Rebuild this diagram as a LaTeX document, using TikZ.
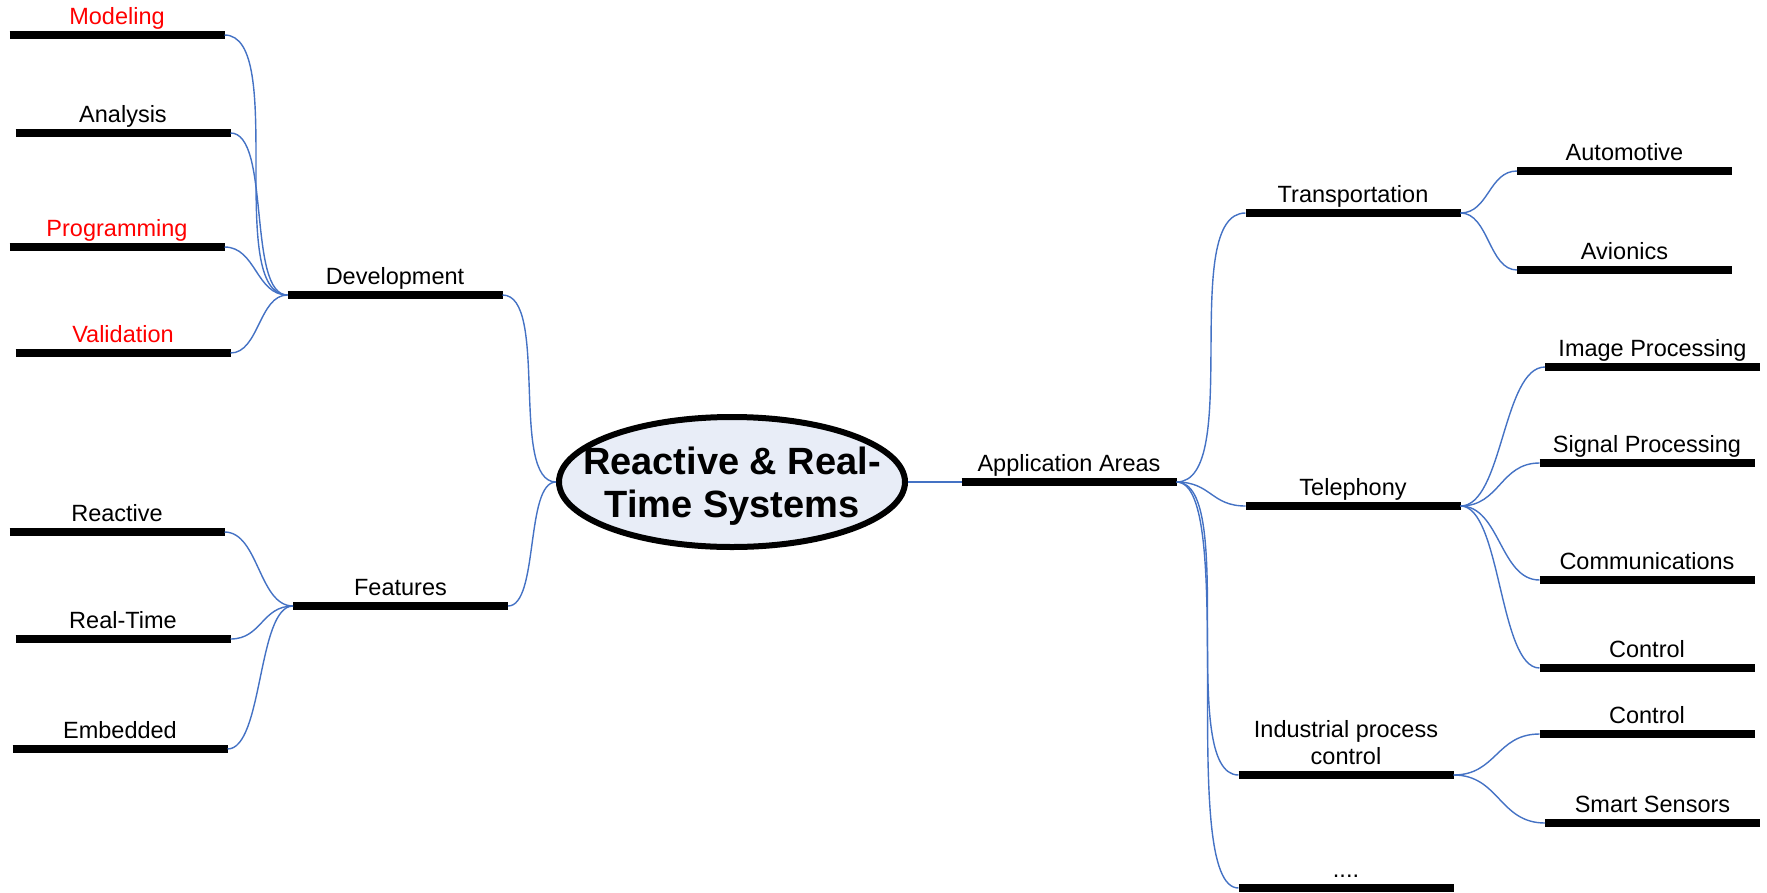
\documentclass[tikz,border=0pt]{standalone}
\usepackage{fontspec}
\setmainfont{Liberation Sans}
\usetikzlibrary{shapes.geometric,calc}

\definecolor{linkblue}{RGB}{68,114,196}
\definecolor{corefill}{RGB}{232,237,247}
\definecolor{hotred}{RGB}{255,0,0}

\tikzset{every picture/.style={line width=0.75pt}}
\tikzset{
	bar/.style={draw=black, line width=8pt},
	topic/.style={font=\fontsize{23.5}{27}\selectfont, align=center, minimum width=215pt,
		inner xsep=0pt, inner ysep=11pt, text depth=0pt, outer sep=0pt, anchor=south,
		append after command={(\tikzlastnode.south west) edge[bar] (\tikzlastnode.south east)}},
	hot/.style={text=hotred},
	core/.style={ellipse, draw=black, line width=6pt, fill=corefill, minimum width=346pt,
		minimum height=130pt, inner sep=0pt},
	title/.style={align=center, inner sep=0pt, font=\fontsize{38}{43}\selectfont\bfseries},
	link/.style={draw=linkblue, line width=1.4pt,
		to path={let \p1=(\tikztostart), \p2=(\tikztotarget),
			\n1={max(0.5*(\x2-\x1), min(\x2-\x1, 0.25*abs(\y2-\y1)))} in
			.. controls ({\x1+\n1*1pt},\y1) and ({\x2-\n1*1pt},\y2) .. (\tikztotarget)}},
}

\begin{document}
\begin{tikzpicture}[x=1pt,y=1pt,yscale=-1,xscale=1]
	\useasboundingbox (0,0) rectangle (1767,892);

	%Shape: Ellipse [core]
	\node[core] (core) at (732,482) {};
	% Text Node
	\node[title] (ttl) at (732,486) {Reactive \& Real-\\Time Systems};

	%Branch: left side
	\node[topic] (dev) at (395,295) {Development};
	\node[topic] (feat) at (400.5,606) {Features};
	\node[topic,hot] (mod) at (117,35) {Modeling};
	\node[topic] (ana) at (123,133) {Analysis};
	\node[topic,hot] (prog) at (117,247) {Programming};
	\node[topic,hot] (vali) at (123,353) {Validation};
	\node[topic] (reac) at (117,532) {Reactive};
	\node[topic] (rt) at (123,639) {Real-Time};
	\node[topic] (emb) at (120,749) {Embedded};

	%Branch: right side
	\node[topic] (app) at (1069,482) {Application Areas};
	\node[topic] (trans) at (1353,213) {Transportation};
	\node[topic] (tel) at (1353,506) {Telephony};
	\node[topic] (ind) at (1346,775) {Industrial process\\control};
	\node[topic] (more) at (1346,888) {....};
	\node[topic] (auto) at (1624.5,171) {Automotive};
	\node[topic] (avio) at (1624.5,270) {Avionics};
	\node[topic] (img) at (1652.5,367) {Image Processing};
	\node[topic] (sig) at (1647,463) {Signal Processing};
	\node[topic] (comm) at (1647,580) {Communications};
	\node[topic] (ctla) at (1647,668) {Control};
	\node[topic] (ctlb) at (1647,734) {Control};
	\node[topic] (smart) at (1652.5,823) {Smart Sensors};

	%Links
	\draw[link] (dev.south east) to (core.west);
	\draw[link] (feat.south east) to (core.west);
	\foreach \kid in {mod,ana,prog,vali}
		\draw[link] (\kid.south east) to (dev.south west);
	\foreach \kid in {reac,rt,emb}
		\draw[link] (\kid.south east) to (feat.south west);
	\draw[link] (core.east) to (app.south west);
	\foreach \kid in {trans,tel,ind,more}
		\draw[link] (app.south east) to (\kid.south west);
	\foreach \kid in {auto,avio}
		\draw[link] (trans.south east) to (\kid.south west);
	\foreach \kid in {img,sig,comm,ctla}
		\draw[link] (tel.south east) to (\kid.south west);
	\foreach \kid in {ctlb,smart}
		\draw[link] (ind.south east) to (\kid.south west);

\end{tikzpicture}
\end{document}
